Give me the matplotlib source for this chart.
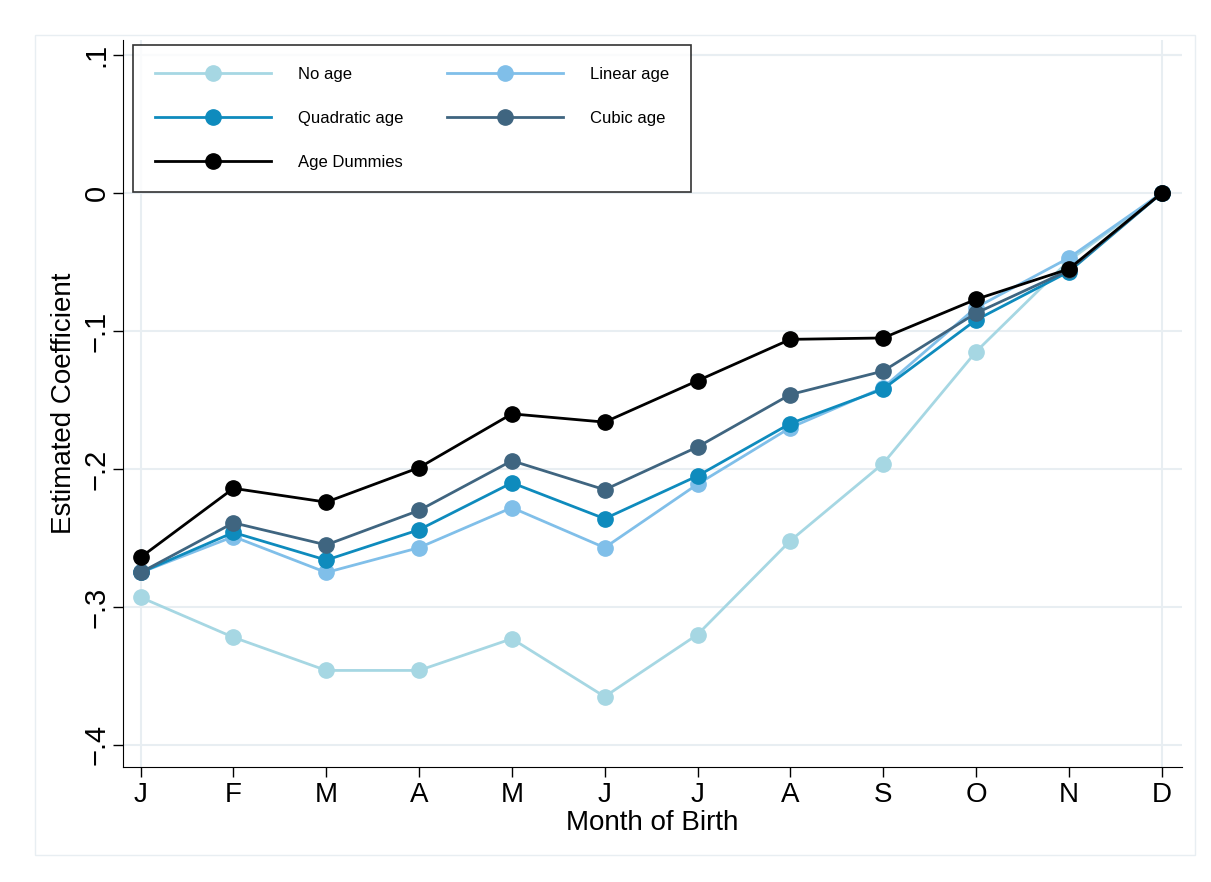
import matplotlib
matplotlib.use("Agg")
import matplotlib.pyplot as plt
from matplotlib.patches import Rectangle

months = ["J", "F", "M", "A", "M", "J", "J", "A", "S", "O", "N", "D"]
no_age = [-0.293, -0.322, -0.346, -0.346, -0.323, -0.365, -0.320, -0.252, -0.196, -0.115, -0.049, 0.0]
linear_age = [-0.275, -0.249, -0.275, -0.257, -0.228, -0.257, -0.211, -0.170, -0.141, -0.083, -0.047, 0.0]
quadratic_age = [-0.275, -0.246, -0.266, -0.244, -0.210, -0.236, -0.205, -0.167, -0.142, -0.092, -0.057, 0.0]
cubic_age = [-0.275, -0.239, -0.255, -0.230, -0.194, -0.215, -0.184, -0.146, -0.129, -0.087, -0.056, 0.0]
age_dummies = [-0.264, -0.214, -0.224, -0.199, -0.160, -0.166, -0.136, -0.106, -0.105, -0.077, -0.055, 0.0]
ytick_vals = [-0.4, -0.3, -0.2, -0.1, 0, 0.1]
ytick_labels = ["\u2212.4", "\u2212.3", "\u2212.2", "\u2212.1", "0", ".1"]

SERIES = [
    ("No age", no_age, "#a6d7e3"),
    ("Linear age", linear_age, "#80bfe9"),
    ("Quadratic age", quadratic_age, "#0e8bbd"),
    ("Cubic age", cubic_age, "#3f6580"),
    ("Age Dummies", age_dummies, "#000000"),
]

plt.rcParams["font.family"] = ["Liberation Sans", "DejaVu Sans"]

fig = plt.figure(figsize=(12.11, 8.82), dpi=100)
fig.patches.append(Rectangle((35 / 1211, 1 - 855 / 882), 1160 / 1211, 820 / 882,
                             transform=fig.transFigure, fill=False,
                             edgecolor="#e8eef2", linewidth=1.0))
ax = fig.add_axes([123 / 1211, 1 - 767 / 882, 1059 / 1211, 727 / 882])

x = list(range(len(months)))
handles = {}
for label, vals, color in SERIES:
    handles[label], = ax.plot(x, vals, color=color, linewidth=2, marker="o",
                              markersize=11, label=label, zorder=3)

ax.set_xlim(-0.19, 11.22)
ax.set_ylim(-0.416, 0.111)
ax.set_xticks(x)
ax.set_xticklabels(months, fontsize=20)
ax.set_yticks(ytick_vals)
ax.set_yticklabels(ytick_labels, fontsize=21, rotation=90, va="center")
ax.tick_params(length=7, width=1)
ax.tick_params(axis="y", pad=2)
ax.grid(axis="y", color="#e8eef2", linewidth=1.5)
ax.axvline(0, color="#e8eef2", linewidth=1.5, zorder=0)
ax.axvline(11, color="#e8eef2", linewidth=1.5, zorder=0)
ax.axhline(0.1, color="#e8eef2", linewidth=1.5, zorder=0)
for s in ("top", "right"):
    ax.spines[s].set_visible(False)
ax.set_xlabel("Month of Birth", fontsize=20, labelpad=2)
ax.set_ylabel("Estimated Coefficient", fontsize=20, labelpad=4)

order = ["No age", "Quadratic age", "Age Dummies", "Linear age", "Cubic age"]
leg = ax.legend([handles[k] for k in order], order, loc="upper left",
                bbox_to_anchor=(10 / 1059, 1 - 5 / 727), borderaxespad=0, ncol=2,
                fontsize=12, frameon=True, fancybox=False, edgecolor="black",
                handlelength=7.0, handletextpad=1.6, columnspacing=2.6,
                borderpad=1.3, labelspacing=1.75)
leg.get_frame().set_linewidth(1.2)

fig.savefig("out.png", facecolor="white")
